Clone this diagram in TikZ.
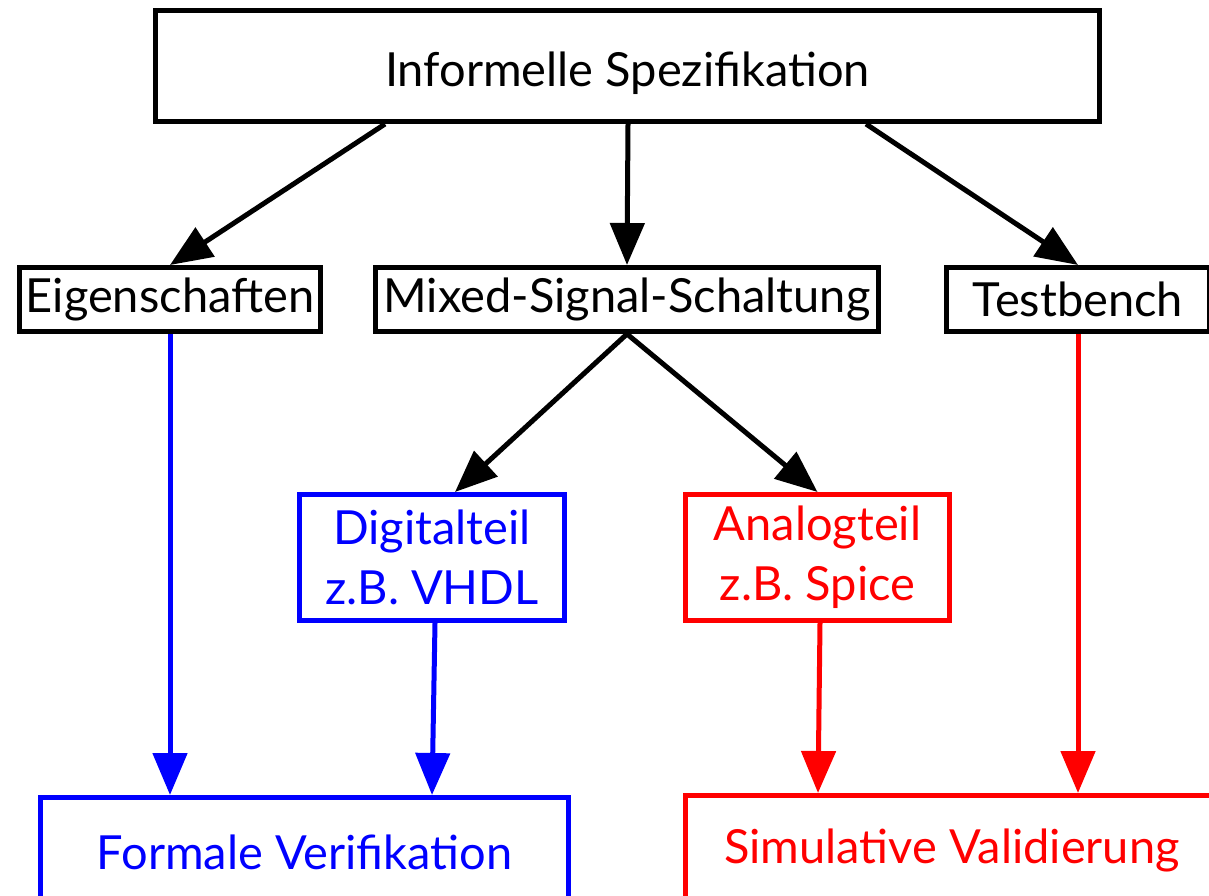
\documentclass[tikz,border=0pt]{standalone}
\usepackage{fontspec}
\setmainfont{Lato}
\usetikzlibrary{arrows.meta}
\definecolor{myblue}{RGB}{0,0,255}
\definecolor{myred}{RGB}{255,0,0}
\begin{document}
\begin{tikzpicture}[x=1pt,y=-1pt,
  box/.style={draw, line width=5pt, rectangle, inner sep=0pt, align=center,
    font=\fontsize{47}{60}\selectfont},
  arr/.style={line width=5pt, -{Triangle[length=42pt,width=34pt]}}]
\clip (0,0) rectangle (1209,896);
\fill[white] (0,0) rectangle (1209,896);
\node[box, minimum width=944pt, minimum height=111pt] (top) at (627.5,66) {\raisebox{-7pt}[\height][\depth]{Informelle Spezifikation}};
\node[box, minimum width=301pt, minimum height=64pt] (eig) at (170,299.5) {Eigenschaften};
\node[box, minimum width=503pt, minimum height=64pt] (mix) at (627,299.5) {Mixed-Signal-Schaltung};
\node[box, minimum width=263pt, minimum height=64pt] (tb) at (1078,299.5) {Testbench};
\node[box, myblue, text=myblue, minimum width=265pt, minimum height=126pt] (dig) at (432,557.5) {Digitalteil\\z.B. VHDL};
\node[box, myred, text=myred, minimum width=264pt, minimum height=126pt] (ana) at (817.5,557.5) {Analogteil\\z.B. Spice};
\node[box, myblue, text=myblue, minimum width=528pt, minimum height=109pt] (for) at (304.5,852) {Formale Verifikation};
\node[box, myred, text=myred, minimum width=533pt, minimum height=109pt] (sim) at (952,850) {Simulative Validierung};
\draw[arr] ([xshift=-242.5pt]top.south) -- (eig.north);
\draw[arr] ([xshift=0.5pt]top.south) -- (mix.north);
\draw[arr] ([xshift=238.5pt]top.south) -- (tb.north);
\draw[arr] (mix.south) -- ([xshift=23pt]dig.north);
\draw[arr] (mix.south) -- (ana.north);
\draw[arr, myblue] (eig.south) -- ([xshift=-134.5pt]for.north);
\draw[arr, myblue] ([xshift=3pt]dig.south) -- ([xshift=127.5pt]for.north);
\draw[arr, myred] ([xshift=2.5pt]ana.south) -- ([xshift=-134pt]sim.north);
\draw[arr, myred] (tb.south) -- ([xshift=126pt]sim.north);
\end{tikzpicture}
\end{document}
